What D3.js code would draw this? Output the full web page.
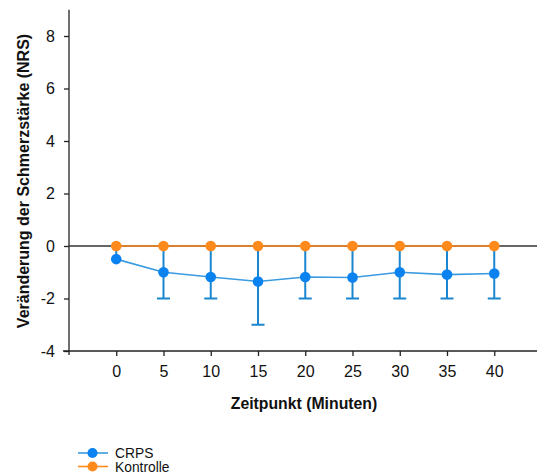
<!DOCTYPE html>
<html><head><meta charset="utf-8">
<script src="https://cdn.jsdelivr.net/npm/d3@7"></script>
<style>body{margin:0;background:#fff;} svg{display:block;font-family:"Liberation Sans",Arial,sans-serif;}</style>
</head><body>
<svg id="c" width="537" height="475"></svg>
<script>
const timepoints = [0, 5, 10, 15, 20, 25, 30, 35, 40];
const crpsMean = [-0.5, -1.0, -1.18, -1.35, -1.18, -1.2, -1.0, -1.09, -1.05];
const crpsLower = [-0.5, -2, -2, -3, -2, -2, -2, -2, -2];
const crpsUpper = [0, 0, 0, 0, 0, 0, 0, 0, 0];
const kontrolleMean = [0, 0, 0, 0, 0, 0, 0, 0, 0];
const xTicks = [0, 5, 10, 15, 20, 25, 30, 35, 40];
const yTicks = [-4, -2, 0, 2, 4, 6, 8];
const seriesNames = ["CRPS", "Kontrolle"];

const svg = d3.select("#c");
const x = d3.scaleLinear().domain([-5, 45]).range([69, 541.5]);
const y = d3.scaleLinear().domain([-4, 9]).range([351, 9.75]);

const blueLine = "#3a9be0", blueMark = "#0a82f0", blueErr = "#1a86cf", orange = "#ff8a1c";
const fmt = d => String(d).replace("\u2212", "-");

// y axis
const ya = svg.append("g").attr("transform", "translate(69,0)")
  .call(d3.axisLeft(y).tickValues(yTicks).tickFormat(fmt).tickSize(5).tickPadding(9).tickSizeOuter(0));
ya.select(".domain").attr("stroke", "#222").attr("stroke-width", 1.3).attr("d", `M0,${y(9)}V${y(-4)+4}`);
ya.selectAll(".tick line").attr("stroke", "#222").attr("stroke-width", 1.3);
ya.selectAll("text").attr("font-size", 16).attr("fill", "#111").attr("font-family", "Liberation Sans, Arial, sans-serif");

// x axis
const xa = svg.append("g").attr("transform", "translate(0,351)")
  .call(d3.axisBottom(x).tickValues(xTicks).tickFormat(fmt).tickSize(5).tickPadding(10).tickSizeOuter(0));
xa.select(".domain").attr("stroke", "#222").attr("stroke-width", 1.3).attr("d", `M63,0H541`);
xa.selectAll(".tick line").attr("stroke", "#222").attr("stroke-width", 1.3);
xa.selectAll("text").attr("font-size", 16).attr("fill", "#111").attr("font-family", "Liberation Sans, Arial, sans-serif");

// zero line
svg.append("line").attr("x1", 69).attr("x2", 541).attr("y1", y(0)).attr("y2", y(0))
  .attr("stroke", "#333").attr("stroke-width", 1.4);

// titles
svg.append("text").attr("x", 304).attr("y", 409).attr("text-anchor", "middle")
  .attr("font-size", 15.8).attr("font-weight", "bold").attr("fill", "#111").text("Zeitpunkt (Minuten)");
svg.append("text").attr("transform", "translate(29,181) rotate(-90)").attr("text-anchor", "middle")
  .attr("font-size", 16).attr("font-weight", "bold").attr("fill", "#111").text("Veränderung der Schmerzstärke (NRS)");

// error bars CRPS
const eb = svg.append("g");
timepoints.forEach((t, i) => {
  eb.append("line").attr("x1", x(t)).attr("x2", x(t)).attr("y1", y(crpsUpper[i])).attr("y2", y(crpsLower[i]))
    .attr("stroke", blueErr).attr("stroke-width", 2);
  if (crpsLower[i] < crpsMean[i]) {
    eb.append("line").attr("x1", x(t) - 6.5).attr("x2", x(t) + 6.5).attr("y1", y(crpsLower[i])).attr("y2", y(crpsLower[i]))
      .attr("stroke", blueErr).attr("stroke-width", 2);
  }
});

// lines
const line = d3.line().x(d => x(d[0])).y(d => y(d[1]));
svg.append("path").datum(timepoints.map((t, i) => [t, crpsMean[i]]))
  .attr("d", line).attr("fill", "none").attr("stroke", blueLine).attr("stroke-width", 1.6);
svg.append("path").datum(timepoints.map((t, i) => [t, kontrolleMean[i]]))
  .attr("d", line).attr("fill", "none").attr("stroke", orange).attr("stroke-width", 1.6);

// markers
svg.append("g").selectAll("circle").data(timepoints).join("circle")
  .attr("cx", d => x(d)).attr("cy", (d, i) => y(crpsMean[i])).attr("r", 5.3).attr("fill", blueMark);
svg.append("g").selectAll("circle").data(timepoints).join("circle")
  .attr("cx", d => x(d)).attr("cy", (d, i) => y(kontrolleMean[i])).attr("r", 5.3).attr("fill", orange);

// legend
const legColors = [blueLine, orange], legMarks = [blueMark, orange];
const lg = svg.append("g");
seriesNames.forEach((n, i) => {
  const yy = 453 + i * 13.5;
  lg.append("line").attr("x1", 78).attr("x2", 108).attr("y1", yy).attr("y2", yy).attr("stroke", legColors[i]).attr("stroke-width", 1.6);
  lg.append("circle").attr("cx", 92.5).attr("cy", yy).attr("r", 5).attr("fill", legMarks[i]);
  lg.append("text").attr("x", 115).attr("y", yy + 5).attr("font-size", 13.8).attr("fill", "#111").text(n);
});
</script>
</body></html>
